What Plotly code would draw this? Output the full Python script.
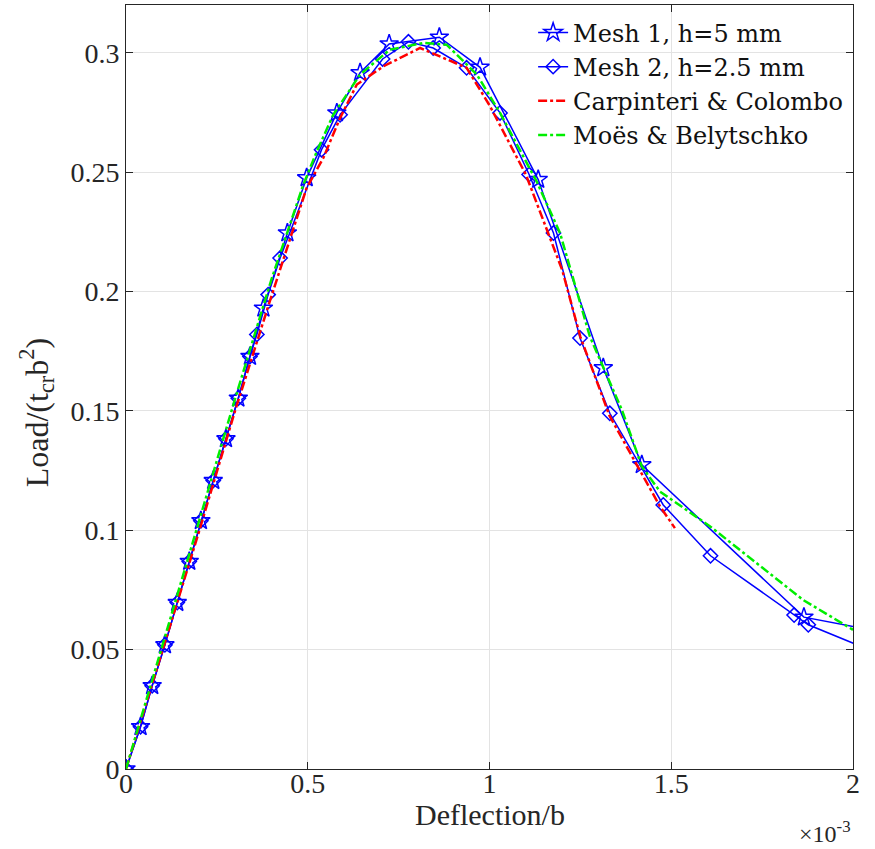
import plotly.graph_objects as go

# Deflection/b values are stored in units of 1e-3
mesh1_x = [0, 0.040, 0.072, 0.107, 0.141, 0.174, 0.206, 0.240, 0.275, 0.309, 0.341,
           0.378, 0.444, 0.497, 0.580, 0.644, 0.724, 0.862, 0.974, 1.134, 1.313,
           1.419, 1.865, 2.15]
mesh1_y = [0, 0.0177, 0.0349, 0.0520, 0.0697, 0.0869, 0.104, 0.1208, 0.1383, 0.1553,
           0.1728, 0.193, 0.2245, 0.2476, 0.2748, 0.2916, 0.3037, 0.3065, 0.2939,
           0.2469, 0.168, 0.1274, 0.0636, 0.0554]

mesh2_x = [0, 0.040, 0.072, 0.107, 0.141, 0.174, 0.206, 0.240, 0.275, 0.309, 0.341,
           0.360, 0.391, 0.424, 0.538, 0.589, 0.706, 0.777, 0.845, 0.937, 1.029,
           1.109, 1.176, 1.249, 1.331, 1.478, 1.608, 1.838, 1.877, 2.1]
mesh2_y = [0, 0.0177, 0.0349, 0.0520, 0.0697, 0.0869, 0.104, 0.1208, 0.1383, 0.1553,
           0.1728, 0.182, 0.1987, 0.214, 0.2594, 0.274, 0.2974, 0.3046, 0.302,
           0.2937, 0.2748, 0.249, 0.2245, 0.1805, 0.149, 0.1106, 0.0893, 0.0645,
           0.0604, 0.0465]

carp_x = [0, 0.1, 0.2, 0.3, 0.4, 0.497, 0.543, 0.589, 0.635, 0.708, 0.809, 0.937,
          1.0, 1.1, 1.2, 1.25, 1.33, 1.414, 1.469, 1.51]
carp_y = [0, 0.049, 0.099, 0.150, 0.198, 0.2434, 0.256, 0.2727, 0.2867, 0.2943,
          0.302, 0.2937, 0.278, 0.249, 0.209, 0.181, 0.148, 0.125, 0.110, 0.1009]

moes_x = [0, 0.1, 0.2, 0.3, 0.4, 0.488, 0.525, 0.570, 0.644, 0.726, 0.818, 0.882,
          0.965, 1.029, 1.13, 1.194, 1.276, 1.364, 1.419, 1.469, 1.607, 1.735,
          1.863, 2.0]
moes_y = [0, 0.0515, 0.103, 0.155, 0.205, 0.2448, 0.2587, 0.274, 0.2909, 0.3013,
          0.3041, 0.3034, 0.2909, 0.2748, 0.246, 0.2245, 0.1812, 0.1505, 0.1267,
          0.1162, 0.1016, 0.0862, 0.0708, 0.0583]

x_ticks = [0, 0.5, 1, 1.5, 2]
x_tick_text = ["0", "0.5", "1", "1.5", "2"]
y_ticks = [0, 0.05, 0.1, 0.15, 0.2, 0.25, 0.3]
y_tick_text = ["0", "0.05", "0.1", "0.15", "0.2", "0.25", "0.3"]

BLUE = "#0000ff"
INK = "#262626"
SERIF = "Liberation Serif, Times New Roman, serif"
LEGEND_SERIF = "DejaVu Serif, serif"

fig = go.Figure()
fig.add_trace(go.Scatter(
    x=mesh1_x, y=mesh1_y, mode="lines+markers", name="Mesh 1, h=5 mm",
    line=dict(color=BLUE, width=1.5),
    marker=dict(symbol="star-open", size=14, color=BLUE, line=dict(width=1.5)),
))
fig.add_trace(go.Scatter(
    x=mesh2_x, y=mesh2_y, mode="lines+markers", name="Mesh 2, h=2.5 mm",
    line=dict(color=BLUE, width=1.5),
    marker=dict(symbol="diamond-open", size=11, color=BLUE, line=dict(width=1.5)),
))
fig.add_trace(go.Scatter(
    x=carp_x, y=carp_y, mode="lines", name="Carpinteri & Colombo",
    line=dict(color="#ff0000", width=2.5, dash="dashdot"),
))
fig.add_trace(go.Scatter(
    x=moes_x, y=moes_y, mode="lines", name="Moës & Belytschko",
    line=dict(color="#00ee00", width=2.5, dash="dashdot"),
))

axis_common = dict(
    showline=True, linecolor=INK, linewidth=1, mirror="ticks",
    ticks="inside", ticklen=7, tickcolor=INK,
    showgrid=True, gridcolor="#e3e3e3", gridwidth=1, zeroline=False,
    tickfont=dict(family=SERIF, size=28, color=INK),
)

fig.update_xaxes(range=[0, 2], tickvals=x_ticks, ticktext=x_tick_text,
                 ticklabelstandoff=-11, **axis_common)
fig.update_yaxes(range=[0, 0.32], tickvals=y_ticks, ticktext=y_tick_text,
                 **axis_common)

# Axis titles and the exponent multiplier
fig.add_annotation(
    x=0.5, xref="paper", y=-0.060, yref="paper", xanchor="center", yanchor="middle",
    text="Deflection/b", showarrow=False,
    font=dict(family=SERIF, size=30, color=INK),
)
fig.add_annotation(
    x=-0.122, xref="paper", y=0.466, yref="paper", xanchor="center", yanchor="middle",
    text="Load/(t<sub>cr</sub>b<sup>2</sup>)", textangle=-90, showarrow=False,
    font=dict(family=SERIF, size=32, color=INK),
)
fig.add_annotation(
    x=1, xref="paper", y=-0.105, yref="paper", xanchor="right", yanchor="bottom",
    text="×10<sup>-3</sup>", showarrow=False,
    font=dict(family=SERIF, size=24, color=INK),
)

fig.update_layout(
    width=875, height=849,
    margin=dict(l=126, r=22, t=5, b=80),
    paper_bgcolor="white", plot_bgcolor="white",
    showlegend=True,
    legend=dict(
        x=0.56, y=0.993, xanchor="left", yanchor="top",
        bgcolor="rgba(255,255,255,0)", borderwidth=0,
        font=dict(family=LEGEND_SERIF, size=24, color="#111111"),
        itemwidth=30, tracegroupgap=0,
    ),
)

fig.write_html("out.html")
